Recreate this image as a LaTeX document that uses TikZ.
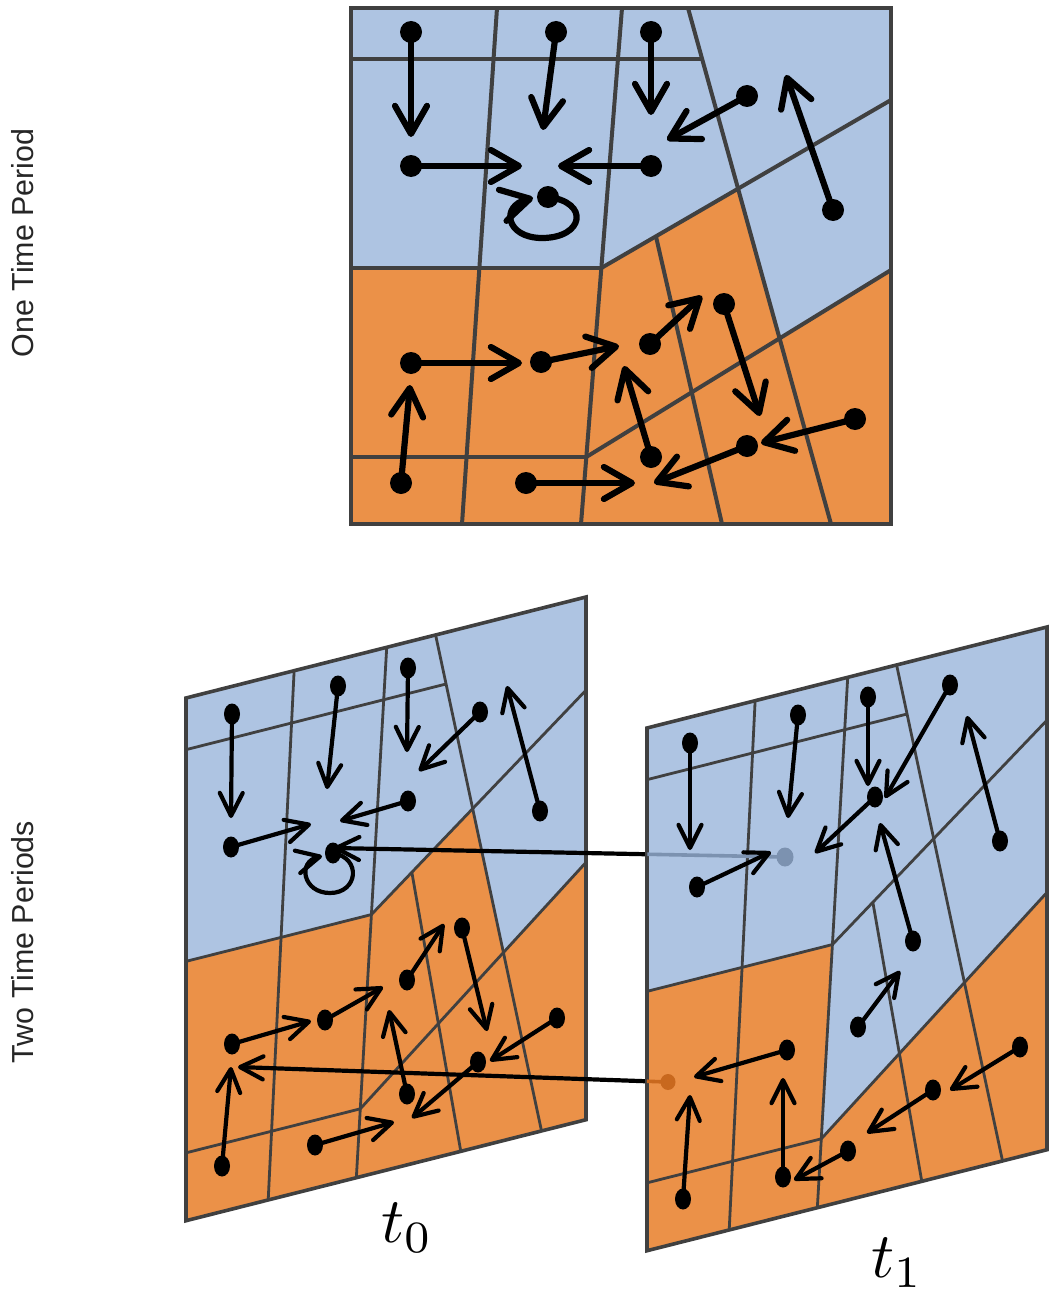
\documentclass[tikz,border=0pt]{standalone}
\usepackage{fontspec}
\newfontfamily\labelsans{Liberation Sans}
\usetikzlibrary{arrows.meta,calc}

\definecolor{cellblue}{RGB}{174,196,226}
\definecolor{cellorange}{RGB}{235,145,72}
\definecolor{gridgray}{RGB}{64,64,64}
\definecolor{fadeblue}{RGB}{124,146,176}
\definecolor{fadeorange}{RGB}{200,104,30}

\tikzset{
  bigarrow/.style={line width=3.1pt, line cap=round,
    -{Straight Barb[length=14pt,width=16pt,round]}},
  smallarrow/.style={line width=2.1pt, line cap=round,
    -{Straight Barb[length=11.5pt,width=11.5pt,round]}},
  topgrid/.style={draw=gridgray, line width=2pt},
  topframe/.style={draw=gridgray, line width=2.4pt},
  lowgrid/.style={draw=gridgray, line width=1.4pt},
  lowframe/.style={draw=gridgray, line width=1.8pt},
  fadelink/.style={line width=1.8pt},
  sidelabel/.style={font=\labelsans\fontsize{15.2}{18}\selectfont, text=black!85, rotate=90},
  timelabel/.style={scale=3.2, inner sep=0pt}
}

% cell grid of one map, in the map's own frame (351..891 x 8..524)
\newcommand{\mapfill}[1]{%
  \fill[cellblue] (351,8) -- (891,8) -- (891,524) -- (351,524) -- cycle;
  \fill[cellorange] #1 -- cycle;}
\newcommand{\maplines}[2]{%
  \draw[#1] (351,59) -- (702.1,59);
  \draw[#1] (497,8) -- (462,524);
  \draw[#1] (622,8) -- (581,524);
  \draw[#1] (688,8) -- (831,524);
  \draw[#1] (891,100) -- (601.3,268);
  \draw[#1] (891,270) -- (586.3,457);
  \draw[#1] (351,268) -- (601.3,268);
  \draw[#1] (351,457) -- (586.3,457);
  \draw[#1] (656,236.6) -- (722,524);
  \draw[#2] (351,8) -- (891,8) -- (891,524) -- (351,524) -- cycle;}

% a moving point: dot at the start, arrow to the end
\newcommand{\bigflow}[3]{%
  \coordinate (#1a) at (#2); \coordinate (#1b) at (#3);
  \draw[bigarrow] (#1a) -- (#1b);
  \fill (#1a) circle[radius=11];}
\newcommand{\smallflow}[3]{%
  \coordinate (#1a) at (#2); \coordinate (#1b) at (#3);
  \draw[smallarrow] (#1a) -- (#1b);
  \fill (#1a) ellipse[x radius=8, y radius=10.5];}

\begin{document}
\begin{tikzpicture}[x=0.5pt,y=-0.5pt]
\useasboundingbox (0,0) rectangle (1052,1295);

% ---------- one time period ----------
\mapfill{(351,268) -- (601.3,268) -- (738.1,188.9) -- (779.6,338.3) -- (891,270) -- (891,524) -- (351,524)}
\maplines{topgrid}{topframe}

\bigflow{T1}{411,32}{411,137}
\bigflow{T2}{556,32}{543,130}
\bigflow{T3}{651,32}{651,115}
\bigflow{T4}{747,96}{667,140}
\bigflow{T5}{833,210}{786,75}
\bigflow{T6}{411,166}{522,166}
\bigflow{T7}{651,166}{558,166}
\coordinate (T8a) at (548,197); \coordinate (T8b) at (533,198);
\draw[bigarrow] (T8a) .. controls (590,202) and (584,238) .. (542,238)
  .. controls (506,238) and (500,206) .. (T8b);
\fill (T8a) circle[radius=11];
\bigflow{T9}{401,483}{410,385}
\bigflow{T10}{411,363}{522,363}
\bigflow{T11}{541,362}{619,346}
\bigflow{T12}{650,344}{702,296}
\bigflow{T13}{724,304}{760,416}
\bigflow{T14}{855,419}{761,443}
\bigflow{T15}{747,446}{654,483}
\bigflow{T16}{651,457}{624,366}
\bigflow{T17}{526,483}{635,483}

\node[sidelabel] (oneperiod) at (23,243) {One Time Period};

% ---------- two time periods: t0 ----------
\begin{scope}[shift={(-37pt,-377.765pt)}, x={(0.37035pt,0.0935pt)}, y={(0pt,-0.5065pt)}]
\mapfill{(351,268) -- (601.3,268) -- (738.1,188.9) -- (779.6,338.3) -- (891,270) -- (891,524) -- (351,524)}
\maplines{lowgrid}{lowframe}
\end{scope}

\smallflow{L1}{232,714}{231,818}
\smallflow{L2}{338,686}{327,789}
\smallflow{L3}{408,668}{407,752}
\smallflow{L4}{480,712}{419,771}
\smallflow{L5}{540,811}{507,686}
\smallflow{L6}{231,847}{311,824}
\smallflow{L7}{408,801}{340,821}
\coordinate (L8a) at (333,853); \coordinate (L8b) at (322,856);
\draw[smallarrow] (L8a) .. controls (362,858) and (358,893) .. (330,893)
  .. controls (303,893) and (297,862) .. (L8b);
\fill (L8a) ellipse[x radius=8, y radius=10.5];
\smallflow{L9}{222,1166}{231,1067}
\smallflow{L10}{232,1044}{311,1021}
\smallflow{L11}{325,1020}{383,987}
\smallflow{L12}{407,980}{444,924}
\smallflow{L13}{462,928}{487,1031}
\smallflow{L14}{557,1018}{490,1061}
\smallflow{L15}{478,1062}{412,1118}
\smallflow{L16}{407,1094}{389,1010}
\smallflow{L17}{315,1145}{394,1122}

% links from the later map back to the earlier one
\coordinate (A1s) at (785,857); \coordinate (A1e) at (334,848);
\coordinate (A2s) at (668,1082); \coordinate (A2e) at (238,1067);
\draw[smallarrow] (A1s) -- (A1e);
\draw[smallarrow] (A2s) -- (A2e);

% ---------- two time periods: t1 ----------
\begin{scope}[shift={(193.5pt,-392.765pt)}, x={(0.37035pt,0.0935pt)}, y={(0pt,-0.5065pt)}]
\mapfill{(351,268) -- (601.3,268) -- (586.3,457) -- (891,270) -- (891,524) -- (351,524)}
\maplines{lowgrid}{lowframe}
\end{scope}

\coordinate (A1edge) at ($(A1s)!0.305!(A1e)$);
\coordinate (A2edge) at ($(A2s)!0.049!(A2e)$);
\draw[fadelink, fadeblue] (A1s) -- (A1edge);
\fill[fadeblue] (A1s) ellipse[x radius=8.5, y radius=9.5];
\draw[fadelink, fadeorange] (A2s) -- (A2edge);
\fill[fadeorange] (A2s) ellipse[x radius=7.5, y radius=8];

\smallflow{R1}{690,743}{690,850}
\smallflow{R2}{798,715}{788,818}
\smallflow{R3}{868,697}{868,786}
\smallflow{R4}{950,685}{885,798}
\smallflow{R5}{1000,841}{967,716}
\smallflow{R6}{697,887}{771,852}
\smallflow{R7}{875,797}{815,853}
\smallflow{R8}{913,941}{880,823}
\smallflow{R9}{858,1027}{900,971}
\smallflow{R10}{787,1050}{694,1077}
\smallflow{R11}{683,1199}{690,1095}
\smallflow{R12}{783,1177}{783,1078}
\smallflow{R13}{848,1151}{794,1180}
\smallflow{R14}{933,1090}{867,1133}
\smallflow{R15}{1020,1047}{950,1090}

\node[sidelabel] (twoperiods) at (23,942) {Two Time Periods};
\node[timelabel] (t0) at (407,1228) {$t_0$};
\node[timelabel] (t1) at (897,1263) {$t_1$};
\end{tikzpicture}
\end{document}
